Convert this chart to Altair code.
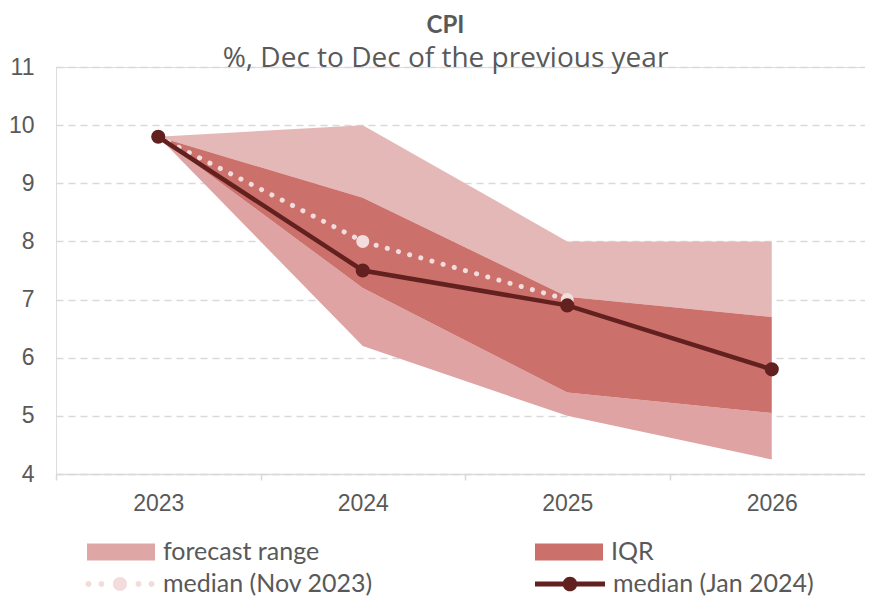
import altair as alt
import pandas as pd

years = ["2023", "2024", "2025", "2026"]
range_max = [9.8, 10.0, 8.0, 8.0]
range_min = [9.8, 6.2, 5.0, 4.25]
iqr_high = [9.8, 8.75, 7.05, 6.7]
iqr_low = [9.8, 7.2, 5.4, 5.05]
median_nov = [9.8, 8.0, 7.0, None]
median_jan = [9.8, 7.5, 6.9, 5.8]

band_labels = ["forecast range", "IQR"]
band_colors = ["#dfa6a6", "#cc706c"]
series_labels = ["median (Nov 2023)", "median (Jan 2024)"]
series_colors = ["#f2dcdc", "#62201f"]

df = pd.DataFrame({
    "year": years,
    "rmax": range_max,
    "rmin": range_min,
    "qhi": iqr_high,
    "qlo": iqr_low,
    "nov": median_nov,
    "jan": median_jan,
})

TEXT = "#595959"
FONT = "Lato"
AXFONT = "Liberation Sans"

x_enc = alt.X("year:N", sort=years,
              scale=alt.Scale(domain=years, range=[0, 818], paddingInner=0, paddingOuter=0),
              axis=alt.Axis(title=None, labelAngle=0, labelFont=AXFONT, labelFontSize=23,
                            labelColor=TEXT, domainColor="#d9d9d9", domainWidth=1.5,
                            tickColor="#d9d9d9", tickWidth=1.5, tickSize=6, tickBand="extent",
                            labelPadding=12, grid=False))
y_scale = alt.Scale(domain=[4, 11], nice=False, zero=False)
y_axis = alt.Axis(title=None, values=[4, 5, 6, 7, 8, 9, 10, 11], format="d", labelFont=AXFONT,
                  labelFontSize=23, labelColor=TEXT, ticks=False, domain=False, labelPadding=22,
                  grid=True, gridColor="#d9d9d9", gridDash=[7, 5], gridWidth=1.5)

base = alt.Chart(df)

upper = base.mark_area(color="#e5b8b8").encode(
    x=x_enc, y=alt.Y("qhi:Q", scale=y_scale, axis=y_axis), y2="rmax:Q")
lower = base.mark_area(color="#dfa3a3").encode(
    x=alt.X("year:N", sort=years), y=alt.Y("rmin:Q"), y2="qlo:Q")
iqr = base.mark_area(color="#cc706c").encode(
    x=alt.X("year:N", sort=years), y=alt.Y("qlo:Q"), y2="qhi:Q")

nov_line = base.transform_filter("isValid(datum.nov)").mark_line(
    color="#f2dcdc", strokeWidth=5, strokeDash=[0.1, 11.5], strokeCap="round").encode(
    x=alt.X("year:N", sort=years), y="nov:Q")
nov_pts = base.transform_filter("isValid(datum.nov) && datum.year != '2023'").mark_point(
    filled=True, color="#f2dcdc", size=170, opacity=1).encode(
    x=alt.X("year:N", sort=years), y="nov:Q")
jan_line = base.mark_line(color="#62201f", strokeWidth=4.5).encode(
    x=alt.X("year:N", sort=years), y="jan:Q")
jan_pts = base.mark_point(filled=True, color="#62201f", size=200, opacity=1).encode(
    x=alt.X("year:N", sort=years), y="jan:Q")

# legend-only layers (no marks drawn)
leg_a_df = pd.DataFrame({"band": band_labels})
leg_b_df = pd.DataFrame({"series": series_labels})

rect_path = "M-1,-0.25H1V0.25H-1Z"


def circ(cx, r):
    return (f"M{cx + r},0A{r},{r} 0 1,1 {cx - r},0A{r},{r} 0 1,1 {cx + r},0Z")


jan_path = "M-1,-0.07H1V0.07H-1Z" + circ(0, 0.21)
nov_path = circ(-0.9, 0.085) + circ(-0.53, 0.085) + circ(0, 0.2) + circ(0.53, 0.085) + circ(0.9, 0.085)

legend_a = alt.Chart(leg_a_df).transform_filter("false").mark_point(filled=True, opacity=1).encode(
    fill=alt.Fill("band:N", scale=alt.Scale(domain=band_labels, range=band_colors),
                  legend=alt.Legend(title=None, orient="none", legendX=31, legendY=451,
                                    direction="horizontal", columns=2, gridAlign="all",
                                    symbolType=rect_path, symbolSize=4624, symbolStrokeWidth=0,
                                    symbolOpacity=1,
                                    labelFont=FONT, labelFontSize=25, labelColor=TEXT, labelLimit=400,
                                    labelOffset=8, columnPadding=215, padding=0)))

leg_b_props = dict(title=None, orient="none", legendX=29, legendY=482,
                   direction="horizontal", columns=2, gridAlign="all",
                   symbolSize=4900, symbolStrokeWidth=0, symbolOpacity=1,
                   labelFont=FONT, labelFontSize=25, labelColor=TEXT, labelLimit=400,
                   labelOffset=8, columnPadding=162, padding=0)
legend_b = alt.Chart(leg_b_df).transform_filter("false").mark_point(filled=True, opacity=1).encode(
    color=alt.Color("series:N", scale=alt.Scale(domain=series_labels, range=series_colors),
                    legend=alt.Legend(**leg_b_props)),
    shape=alt.Shape("series:N", scale=alt.Scale(domain=series_labels, range=[nov_path, jan_path]),
                    legend=alt.Legend(**leg_b_props)))

chart = alt.layer(upper, lower, iqr, nov_line, nov_pts, jan_line, jan_pts, legend_a, legend_b).properties(
    width=809, height=407,
    title=alt.TitleParams(text="CPI", subtitle="%, Dec to Dec of the previous year",
                          font="Lato", fontSize=24, fontWeight="bold", color=TEXT,
                          subtitleFont="Open Sans", subtitleFontSize=28, subtitleColor=TEXT,
                          subtitlePadding=7, anchor="middle", dx=-15, offset=-17),
    autosize=alt.AutoSizeParams(type="none"),
    padding={"left": 48, "top": 59, "right": 0, "bottom": 122},
).configure_view(stroke=None).configure(background="white")

chart.save("out.html", embed_options={"renderer": "svg", "actions": False})
